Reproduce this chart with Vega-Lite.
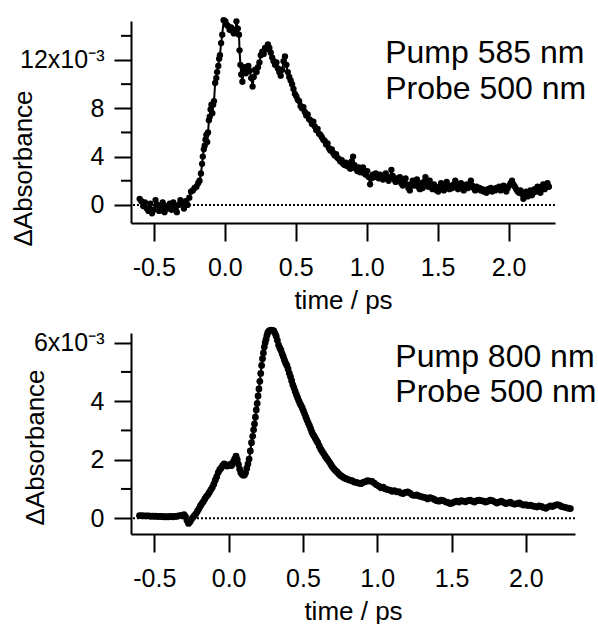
{
"$schema": "https://vega.github.io/schema/vega-lite/v6.json",
"padding": {"left": 9, "top": 16, "right": 0, "bottom": 0},
"spacing": 13,
"config": {
  "view": {"stroke": null},
  "font": "Liberation Sans",
  "axis": {"grid": false, "domainColor": "black", "domainWidth": 2, "tickColor": "black", "tickWidth": 2, "labelColor": "black", "titleColor": "black", "labelFont": "Liberation Sans", "titleFont": "Liberation Sans", "labelFontSize": 25, "titleFontSize": 26, "titleFontWeight": "normal", "labelFlush": false, "labelOverlap": false}
},
"datasets": {
"a": [
{"t":-0.600,"dA":0.0005},{"t":-0.588,"dA":0.0003},{"t":-0.575,"dA":-0.0001},{"t":-0.563,"dA":0.0002},{"t":-0.550,"dA":-0.0003},{"t":-0.538,"dA":-0.0005},{"t":-0.525,"dA":0.0001},{"t":-0.513,"dA":-0.0007},{"t":-0.500,"dA":-0.0004},{"t":-0.488,"dA":0.0004},{"t":-0.475,"dA":0.0000},{"t":-0.463,"dA":-0.0005},{"t":-0.450,"dA":-0.0002},{"t":-0.438,"dA":0.0002},{"t":-0.425,"dA":-0.0006},{"t":-0.413,"dA":-0.0001},{"t":-0.400,"dA":-0.0003},{"t":-0.388,"dA":0.0001},{"t":-0.375,"dA":-0.0004},{"t":-0.363,"dA":0.0002},{"t":-0.350,"dA":-0.0002},{"t":-0.338,"dA":-0.0006},{"t":-0.325,"dA":0.0000},{"t":-0.313,"dA":0.0004},{"t":-0.300,"dA":0.0001},{"t":-0.288,"dA":-0.0003},{"t":-0.275,"dA":0.0003},{"t":-0.263,"dA":0.0000},{"t":-0.250,"dA":0.0006},{"t":-0.238,"dA":0.0011},{"t":-0.225,"dA":0.0012},{"t":-0.213,"dA":0.0014},{"t":-0.200,"dA":0.0015},{"t":-0.188,"dA":0.0018},{"t":-0.178,"dA":0.0020},{"t":-0.168,"dA":0.0026},{"t":-0.160,"dA":0.0034},{"t":-0.155,"dA":0.0040},{"t":-0.148,"dA":0.0046},{"t":-0.142,"dA":0.0049},{"t":-0.136,"dA":0.0054},{"t":-0.130,"dA":0.0058},{"t":-0.124,"dA":0.0052},{"t":-0.118,"dA":0.0060},{"t":-0.112,"dA":0.0070},{"t":-0.106,"dA":0.0073},{"t":-0.100,"dA":0.0079},{"t":-0.094,"dA":0.0083},{"t":-0.088,"dA":0.0076},{"t":-0.082,"dA":0.0083},{"t":-0.076,"dA":0.0086},{"t":-0.068,"dA":0.0101},{"t":-0.060,"dA":0.0105},{"t":-0.054,"dA":0.0110},{"t":-0.046,"dA":0.0115},{"t":-0.040,"dA":0.0121},{"t":-0.034,"dA":0.0124},{"t":-0.026,"dA":0.0134},{"t":-0.018,"dA":0.0141},{"t":-0.008,"dA":0.0153},{"t":0.004,"dA":0.0152},{"t":0.014,"dA":0.0149},{"t":0.024,"dA":0.0148},{"t":0.034,"dA":0.0145},{"t":0.044,"dA":0.0147},{"t":0.054,"dA":0.0144},{"t":0.064,"dA":0.0142},{"t":0.074,"dA":0.0145},{"t":0.082,"dA":0.0152},{"t":0.092,"dA":0.0146},{"t":0.100,"dA":0.0141},{"t":0.104,"dA":0.0128},{"t":0.110,"dA":0.0116},{"t":0.116,"dA":0.0108},{"t":0.124,"dA":0.0102},{"t":0.132,"dA":0.0111},{"t":0.140,"dA":0.0114},{"t":0.148,"dA":0.0109},{"t":0.156,"dA":0.0113},{"t":0.166,"dA":0.0115},{"t":0.176,"dA":0.0111},{"t":0.186,"dA":0.0105},{"t":0.196,"dA":0.0098},{"t":0.204,"dA":0.0106},{"t":0.214,"dA":0.0112},{"t":0.224,"dA":0.0110},{"t":0.234,"dA":0.0114},{"t":0.244,"dA":0.0118},{"t":0.254,"dA":0.0124},{"t":0.264,"dA":0.0127},{"t":0.274,"dA":0.0125},{"t":0.284,"dA":0.0130},{"t":0.294,"dA":0.0129},{"t":0.304,"dA":0.0133},{"t":0.314,"dA":0.0130},{"t":0.324,"dA":0.0126},{"t":0.334,"dA":0.0122},{"t":0.344,"dA":0.0119},{"t":0.354,"dA":0.0116},{"t":0.364,"dA":0.0118},{"t":0.374,"dA":0.0113},{"t":0.384,"dA":0.0110},{"t":0.394,"dA":0.0107},{"t":0.404,"dA":0.0112},{"t":0.414,"dA":0.0119},{"t":0.424,"dA":0.0123},{"t":0.434,"dA":0.0116},{"t":0.444,"dA":0.0110},{"t":0.454,"dA":0.0106},{"t":0.464,"dA":0.0103},{"t":0.474,"dA":0.0100},{"t":0.484,"dA":0.0096},{"t":0.494,"dA":0.0092},{"t":0.504,"dA":0.0090},{"t":0.514,"dA":0.0087},{"t":0.524,"dA":0.0086},{"t":0.534,"dA":0.0082},{"t":0.544,"dA":0.0080},{"t":0.554,"dA":0.0081},{"t":0.564,"dA":0.0077},{"t":0.574,"dA":0.0074},{"t":0.584,"dA":0.0075},{"t":0.594,"dA":0.0071},{"t":0.604,"dA":0.0070},{"t":0.614,"dA":0.0067},{"t":0.624,"dA":0.0069},{"t":0.634,"dA":0.0065},{"t":0.644,"dA":0.0062},{"t":0.654,"dA":0.0063},{"t":0.664,"dA":0.0059},{"t":0.674,"dA":0.0058},{"t":0.684,"dA":0.0056},{"t":0.694,"dA":0.0054},{"t":0.704,"dA":0.0053},{"t":0.714,"dA":0.0050},{"t":0.724,"dA":0.0051},{"t":0.734,"dA":0.0047},{"t":0.744,"dA":0.0045},{"t":0.754,"dA":0.0046},{"t":0.764,"dA":0.0043},{"t":0.774,"dA":0.0041},{"t":0.784,"dA":0.0042},{"t":0.794,"dA":0.0039},{"t":0.804,"dA":0.0038},{"t":0.814,"dA":0.0036},{"t":0.824,"dA":0.0037},{"t":0.834,"dA":0.0034},{"t":0.844,"dA":0.0033},{"t":0.854,"dA":0.0035},{"t":0.864,"dA":0.0032},{"t":0.874,"dA":0.0033},{"t":0.884,"dA":0.0030},{"t":0.894,"dA":0.0036},{"t":0.904,"dA":0.0040},{"t":0.914,"dA":0.0033},{"t":0.924,"dA":0.0030},{"t":0.934,"dA":0.0028},{"t":0.944,"dA":0.0031},{"t":0.954,"dA":0.0027},{"t":0.964,"dA":0.0029},{"t":0.974,"dA":0.0031},{"t":0.984,"dA":0.0026},{"t":0.994,"dA":0.0025},{"t":1.004,"dA":0.0028},{"t":1.014,"dA":0.0023},{"t":1.024,"dA":0.0017},{"t":1.034,"dA":0.0022},{"t":1.044,"dA":0.0025},{"t":1.054,"dA":0.0023},{"t":1.064,"dA":0.0026},{"t":1.074,"dA":0.0024},{"t":1.084,"dA":0.0022},{"t":1.094,"dA":0.0025},{"t":1.104,"dA":0.0023},{"t":1.114,"dA":0.0021},{"t":1.124,"dA":0.0024},{"t":1.134,"dA":0.0026},{"t":1.144,"dA":0.0022},{"t":1.154,"dA":0.0020},{"t":1.164,"dA":0.0023},{"t":1.174,"dA":0.0029},{"t":1.184,"dA":0.0024},{"t":1.194,"dA":0.0021},{"t":1.204,"dA":0.0019},{"t":1.214,"dA":0.0022},{"t":1.224,"dA":0.0020},{"t":1.234,"dA":0.0023},{"t":1.244,"dA":0.0018},{"t":1.254,"dA":0.0016},{"t":1.264,"dA":0.0020},{"t":1.274,"dA":0.0022},{"t":1.284,"dA":0.0017},{"t":1.294,"dA":0.0014},{"t":1.304,"dA":0.0012},{"t":1.314,"dA":0.0017},{"t":1.324,"dA":0.0020},{"t":1.334,"dA":0.0016},{"t":1.344,"dA":0.0019},{"t":1.354,"dA":0.0021},{"t":1.364,"dA":0.0015},{"t":1.374,"dA":0.0013},{"t":1.384,"dA":0.0018},{"t":1.394,"dA":0.0014},{"t":1.404,"dA":0.0019},{"t":1.414,"dA":0.0023},{"t":1.424,"dA":0.0018},{"t":1.434,"dA":0.0015},{"t":1.444,"dA":0.0020},{"t":1.454,"dA":0.0016},{"t":1.464,"dA":0.0013},{"t":1.474,"dA":0.0017},{"t":1.484,"dA":0.0014},{"t":1.494,"dA":0.0012},{"t":1.504,"dA":0.0011},{"t":1.514,"dA":0.0015},{"t":1.524,"dA":0.0018},{"t":1.534,"dA":0.0014},{"t":1.544,"dA":0.0012},{"t":1.554,"dA":0.0016},{"t":1.564,"dA":0.0019},{"t":1.574,"dA":0.0015},{"t":1.584,"dA":0.0013},{"t":1.594,"dA":0.0016},{"t":1.604,"dA":0.0014},{"t":1.614,"dA":0.0017},{"t":1.624,"dA":0.0020},{"t":1.634,"dA":0.0016},{"t":1.644,"dA":0.0013},{"t":1.654,"dA":0.0015},{"t":1.664,"dA":0.0018},{"t":1.674,"dA":0.0014},{"t":1.684,"dA":0.0012},{"t":1.694,"dA":0.0015},{"t":1.704,"dA":0.0017},{"t":1.714,"dA":0.0014},{"t":1.724,"dA":0.0016},{"t":1.734,"dA":0.0020},{"t":1.744,"dA":0.0016},{"t":1.754,"dA":0.0014},{"t":1.764,"dA":0.0012},{"t":1.774,"dA":0.0015},{"t":1.784,"dA":0.0013},{"t":1.794,"dA":0.0014},{"t":1.804,"dA":0.0012},{"t":1.814,"dA":0.0013},{"t":1.824,"dA":0.0011},{"t":1.834,"dA":0.0012},{"t":1.844,"dA":0.0010},{"t":1.854,"dA":0.0013},{"t":1.864,"dA":0.0012},{"t":1.874,"dA":0.0014},{"t":1.884,"dA":0.0011},{"t":1.894,"dA":0.0013},{"t":1.904,"dA":0.0012},{"t":1.914,"dA":0.0014},{"t":1.924,"dA":0.0013},{"t":1.934,"dA":0.0015},{"t":1.944,"dA":0.0012},{"t":1.954,"dA":0.0014},{"t":1.964,"dA":0.0016},{"t":1.974,"dA":0.0013},{"t":1.984,"dA":0.0011},{"t":1.994,"dA":0.0014},{"t":2.004,"dA":0.0016},{"t":2.014,"dA":0.0018},{"t":2.024,"dA":0.0020},{"t":2.034,"dA":0.0017},{"t":2.044,"dA":0.0015},{"t":2.054,"dA":0.0013},{"t":2.064,"dA":0.0011},{"t":2.074,"dA":0.0010},{"t":2.084,"dA":0.0012},{"t":2.094,"dA":0.0009},{"t":2.104,"dA":0.0005},{"t":2.114,"dA":0.0008},{"t":2.124,"dA":0.0011},{"t":2.134,"dA":0.0007},{"t":2.144,"dA":0.0009},{"t":2.154,"dA":0.0012},{"t":2.164,"dA":0.0008},{"t":2.174,"dA":0.0010},{"t":2.184,"dA":0.0013},{"t":2.194,"dA":0.0011},{"t":2.204,"dA":0.0015},{"t":2.214,"dA":0.0012},{"t":2.224,"dA":0.0010},{"t":2.234,"dA":0.0014},{"t":2.244,"dA":0.0017},{"t":2.254,"dA":0.0013},{"t":2.264,"dA":0.0016},{"t":2.274,"dA":0.0018},{"t":2.284,"dA":0.0015}
],
"b": [
{"t":-0.600,"dA":0.00009},{"t":-0.585,"dA":0.00009},{"t":-0.570,"dA":0.00008},{"t":-0.555,"dA":0.00008},{"t":-0.540,"dA":0.00008},{"t":-0.525,"dA":0.00007},{"t":-0.510,"dA":0.00007},{"t":-0.495,"dA":0.00007},{"t":-0.480,"dA":0.00006},{"t":-0.465,"dA":0.00006},{"t":-0.450,"dA":0.00006},{"t":-0.435,"dA":0.00005},{"t":-0.420,"dA":0.00005},{"t":-0.405,"dA":0.00005},{"t":-0.390,"dA":0.00006},{"t":-0.375,"dA":0.00005},{"t":-0.360,"dA":0.00006},{"t":-0.345,"dA":0.00007},{"t":-0.330,"dA":0.00009},{"t":-0.315,"dA":0.00010},{"t":-0.300,"dA":0.00012},{"t":-0.290,"dA":0.00005},{"t":-0.280,"dA":-0.00008},{"t":-0.270,"dA":-0.00018},{"t":-0.260,"dA":-0.00012},{"t":-0.250,"dA":-0.00004},{"t":-0.240,"dA":0.00003},{"t":-0.230,"dA":0.00009},{"t":-0.220,"dA":0.00015},{"t":-0.210,"dA":0.00024},{"t":-0.200,"dA":0.00032},{"t":-0.190,"dA":0.00042},{"t":-0.180,"dA":0.00050},{"t":-0.170,"dA":0.00057},{"t":-0.160,"dA":0.00066},{"t":-0.150,"dA":0.00074},{"t":-0.140,"dA":0.00080},{"t":-0.130,"dA":0.00088},{"t":-0.120,"dA":0.00097},{"t":-0.110,"dA":0.00105},{"t":-0.100,"dA":0.00116},{"t":-0.090,"dA":0.00130},{"t":-0.080,"dA":0.00142},{"t":-0.070,"dA":0.00156},{"t":-0.060,"dA":0.00166},{"t":-0.050,"dA":0.00172},{"t":-0.040,"dA":0.00180},{"t":-0.030,"dA":0.00186},{"t":-0.020,"dA":0.00182},{"t":-0.010,"dA":0.00178},{"t":0.000,"dA":0.00180},{"t":0.010,"dA":0.00184},{"t":0.020,"dA":0.00180},{"t":0.030,"dA":0.00192},{"t":0.040,"dA":0.00202},{"t":0.050,"dA":0.00212},{"t":0.058,"dA":0.00200},{"t":0.066,"dA":0.00184},{"t":0.074,"dA":0.00168},{"t":0.082,"dA":0.00156},{"t":0.090,"dA":0.00150},{"t":0.098,"dA":0.00147},{"t":0.106,"dA":0.00148},{"t":0.114,"dA":0.00155},{"t":0.122,"dA":0.00170},{"t":0.130,"dA":0.00185},{"t":0.138,"dA":0.00202},{"t":0.146,"dA":0.00230},{"t":0.154,"dA":0.00258},{"t":0.162,"dA":0.00280},{"t":0.168,"dA":0.00302},{"t":0.174,"dA":0.00322},{"t":0.180,"dA":0.00345},{"t":0.186,"dA":0.00370},{"t":0.192,"dA":0.00392},{"t":0.198,"dA":0.00418},{"t":0.204,"dA":0.00442},{"t":0.210,"dA":0.00468},{"t":0.216,"dA":0.00495},{"t":0.222,"dA":0.00522},{"t":0.228,"dA":0.00545},{"t":0.234,"dA":0.00565},{"t":0.240,"dA":0.00585},{"t":0.246,"dA":0.00600},{"t":0.252,"dA":0.00612},{"t":0.258,"dA":0.00625},{"t":0.264,"dA":0.00635},{"t":0.272,"dA":0.00640},{"t":0.280,"dA":0.00642},{"t":0.288,"dA":0.00643},{"t":0.296,"dA":0.00642},{"t":0.304,"dA":0.00640},{"t":0.312,"dA":0.00632},{"t":0.320,"dA":0.00622},{"t":0.328,"dA":0.00608},{"t":0.336,"dA":0.00592},{"t":0.344,"dA":0.00582},{"t":0.352,"dA":0.00574},{"t":0.360,"dA":0.00562},{"t":0.368,"dA":0.00552},{"t":0.376,"dA":0.00540},{"t":0.384,"dA":0.00530},{"t":0.392,"dA":0.00522},{"t":0.400,"dA":0.00510},{"t":0.408,"dA":0.00496},{"t":0.416,"dA":0.00484},{"t":0.424,"dA":0.00470},{"t":0.432,"dA":0.00456},{"t":0.440,"dA":0.00445},{"t":0.448,"dA":0.00433},{"t":0.456,"dA":0.00422},{"t":0.464,"dA":0.00412},{"t":0.472,"dA":0.00402},{"t":0.480,"dA":0.00392},{"t":0.488,"dA":0.00385},{"t":0.496,"dA":0.00376},{"t":0.504,"dA":0.00366},{"t":0.512,"dA":0.00356},{"t":0.520,"dA":0.00345},{"t":0.528,"dA":0.00335},{"t":0.536,"dA":0.00325},{"t":0.544,"dA":0.00316},{"t":0.552,"dA":0.00306},{"t":0.560,"dA":0.00295},{"t":0.568,"dA":0.00286},{"t":0.576,"dA":0.00280},{"t":0.584,"dA":0.00272},{"t":0.592,"dA":0.00265},{"t":0.600,"dA":0.00258},{"t":0.610,"dA":0.00247},{"t":0.620,"dA":0.00236},{"t":0.630,"dA":0.00228},{"t":0.640,"dA":0.00220},{"t":0.650,"dA":0.00212},{"t":0.660,"dA":0.00204},{"t":0.670,"dA":0.00198},{"t":0.680,"dA":0.00190},{"t":0.690,"dA":0.00182},{"t":0.700,"dA":0.00174},{"t":0.710,"dA":0.00168},{"t":0.720,"dA":0.00162},{"t":0.730,"dA":0.00158},{"t":0.740,"dA":0.00152},{"t":0.750,"dA":0.00147},{"t":0.760,"dA":0.00144},{"t":0.770,"dA":0.00140},{"t":0.780,"dA":0.00137},{"t":0.790,"dA":0.00135},{"t":0.800,"dA":0.00133},{"t":0.815,"dA":0.00130},{"t":0.830,"dA":0.00128},{"t":0.845,"dA":0.00124},{"t":0.860,"dA":0.00122},{"t":0.875,"dA":0.00120},{"t":0.890,"dA":0.00118},{"t":0.905,"dA":0.00122},{"t":0.920,"dA":0.00125},{"t":0.935,"dA":0.00128},{"t":0.950,"dA":0.00127},{"t":0.965,"dA":0.00126},{"t":0.980,"dA":0.00120},{"t":0.995,"dA":0.00114},{"t":1.010,"dA":0.00110},{"t":1.025,"dA":0.00104},{"t":1.040,"dA":0.00106},{"t":1.055,"dA":0.00100},{"t":1.070,"dA":0.00098},{"t":1.085,"dA":0.00096},{"t":1.100,"dA":0.00092},{"t":1.115,"dA":0.00094},{"t":1.130,"dA":0.00090},{"t":1.145,"dA":0.00091},{"t":1.160,"dA":0.00086},{"t":1.175,"dA":0.00084},{"t":1.190,"dA":0.00088},{"t":1.205,"dA":0.00090},{"t":1.220,"dA":0.00086},{"t":1.235,"dA":0.00080},{"t":1.250,"dA":0.00078},{"t":1.265,"dA":0.00080},{"t":1.280,"dA":0.00076},{"t":1.295,"dA":0.00074},{"t":1.310,"dA":0.00072},{"t":1.325,"dA":0.00070},{"t":1.340,"dA":0.00066},{"t":1.355,"dA":0.00070},{"t":1.370,"dA":0.00068},{"t":1.385,"dA":0.00064},{"t":1.400,"dA":0.00060},{"t":1.415,"dA":0.00058},{"t":1.430,"dA":0.00062},{"t":1.445,"dA":0.00060},{"t":1.460,"dA":0.00056},{"t":1.475,"dA":0.00054},{"t":1.490,"dA":0.00050},{"t":1.505,"dA":0.00052},{"t":1.520,"dA":0.00056},{"t":1.535,"dA":0.00058},{"t":1.550,"dA":0.00055},{"t":1.565,"dA":0.00060},{"t":1.580,"dA":0.00058},{"t":1.595,"dA":0.00056},{"t":1.610,"dA":0.00060},{"t":1.625,"dA":0.00062},{"t":1.640,"dA":0.00058},{"t":1.655,"dA":0.00055},{"t":1.670,"dA":0.00060},{"t":1.685,"dA":0.00062},{"t":1.700,"dA":0.00060},{"t":1.715,"dA":0.00058},{"t":1.730,"dA":0.00055},{"t":1.745,"dA":0.00058},{"t":1.760,"dA":0.00062},{"t":1.775,"dA":0.00060},{"t":1.790,"dA":0.00056},{"t":1.805,"dA":0.00052},{"t":1.820,"dA":0.00055},{"t":1.835,"dA":0.00058},{"t":1.850,"dA":0.00054},{"t":1.865,"dA":0.00050},{"t":1.880,"dA":0.00052},{"t":1.895,"dA":0.00055},{"t":1.910,"dA":0.00050},{"t":1.925,"dA":0.00048},{"t":1.940,"dA":0.00050},{"t":1.955,"dA":0.00052},{"t":1.970,"dA":0.00048},{"t":1.985,"dA":0.00045},{"t":2.000,"dA":0.00046},{"t":2.015,"dA":0.00043},{"t":2.030,"dA":0.00045},{"t":2.045,"dA":0.00042},{"t":2.060,"dA":0.00040},{"t":2.075,"dA":0.00038},{"t":2.090,"dA":0.00042},{"t":2.105,"dA":0.00040},{"t":2.120,"dA":0.00036},{"t":2.135,"dA":0.00034},{"t":2.150,"dA":0.00038},{"t":2.165,"dA":0.00042},{"t":2.180,"dA":0.00040},{"t":2.195,"dA":0.00044},{"t":2.210,"dA":0.00046},{"t":2.225,"dA":0.00045},{"t":2.240,"dA":0.00040},{"t":2.255,"dA":0.00038},{"t":2.270,"dA":0.00036},{"t":2.285,"dA":0.00034},{"t":2.300,"dA":0.00033}
],
"minorA": [{"v": 0.002}, {"v": 0.006}, {"v": 0.010}, {"v": 0.014}],
"minorB": [{"v": 0.001}, {"v": 0.003}, {"v": 0.005}]
},
"vconcat": [
{
  "width": 424, "height": 202,
  "layer": [
    {"data": {"name": "a"}, "mark": {"type": "line", "color": "black", "strokeWidth": 2},
     "encoding": {
       "x": {"field": "t", "type": "quantitative", "scale": {"domain": [-0.661, 2.327], "nice": false, "zero": false},
             "axis": {"values": [-0.5, 0, 0.5, 1, 1.5, 2], "labelExpr": "(datum.value < 0 ? '-' : '') + format(abs(datum.value), '.1f')", "tickSize": 18, "labelPadding": 14, "title": "time / ps", "titleBaseline": "alphabetic", "titleY": 85}},
       "y": {"field": "dA", "type": "quantitative", "scale": {"domain": [-0.0015, 0.01523], "nice": false, "zero": false},
             "axis": {"values": [0, 0.004, 0.008, 0.012],
                      "labelExpr": "round(datum.value*1000) == 12 ? '12x10⁻³' : '' + round(datum.value*1000)",
                      "tickSize": 17, "labelPadding": 10, "title": "ΔAbsorbance", "titleBaseline": "alphabetic", "titleX": -100, "titleY": 147}}
     }},
    {"data": {"values": [{}]}, "mark": {"type": "rule", "strokeDash": [2, 2], "strokeWidth": 2, "color": "black"},
     "encoding": {"y": {"datum": 0, "type": "quantitative"}}},
    {"data": {"name": "minorA"}, "mark": {"type": "tick", "orient": "horizontal", "size": 10, "thickness": 2, "color": "black", "opacity": 1, "xOffset": -5},
     "encoding": {"x": {"datum": -0.661, "type": "quantitative"}, "y": {"field": "v", "type": "quantitative"}}},
    {"data": {"name": "a"}, "mark": {"type": "circle", "color": "black", "size": 40, "opacity": 1},
     "encoding": {
       "x": {"field": "t", "type": "quantitative"},
       "y": {"field": "dA", "type": "quantitative"}
     }},
    {"data": {"values": [{}]}, "mark": {"type": "text", "align": "left", "baseline": "alphabetic", "fontSize": 32, "lineHeight": 36.6, "font": "Liberation Sans", "color": "black"},
     "encoding": {
       "x": {"datum": 1.13, "type": "quantitative"},
       "y": {"datum": 0.01178, "type": "quantitative"},
       "text": {"value": ["Pump 585 nm", "Probe 500 nm"]}
     }}
  ]
},
{
  "width": 444, "height": 201,
  "layer": [
    {"data": {"name": "b"}, "mark": {"type": "line", "color": "black", "strokeWidth": 2},
     "encoding": {
       "x": {"field": "t", "type": "quantitative", "scale": {"domain": [-0.657, 2.331], "nice": false, "zero": false},
             "axis": {"values": [-0.5, 0, 0.5, 1, 1.5, 2], "labelExpr": "(datum.value < 0 ? '-' : '') + format(abs(datum.value), '.1f')", "tickSize": 18, "labelPadding": 14, "title": "time / ps", "titleBaseline": "alphabetic", "titleY": 85}},
       "y": {"field": "dA", "type": "quantitative", "scale": {"domain": [-0.00054, 0.00633], "nice": false, "zero": false},
             "axis": {"values": [0, 0.002, 0.004, 0.006],
                      "labelExpr": "round(datum.value*1000) == 6 ? '6x10⁻³' : '' + round(datum.value*1000)",
                      "tickSize": 17, "labelPadding": 10, "title": "ΔAbsorbance", "titleBaseline": "alphabetic", "titleX": -88, "titleY": 114}}
     }},
    {"data": {"values": [{}]}, "mark": {"type": "rule", "strokeDash": [2, 2], "strokeWidth": 2, "color": "black"},
     "encoding": {"y": {"datum": 0, "type": "quantitative"}}},
    {"data": {"name": "minorB"}, "mark": {"type": "tick", "orient": "horizontal", "size": 10, "thickness": 2, "color": "black", "opacity": 1, "xOffset": -5},
     "encoding": {"x": {"datum": -0.657, "type": "quantitative"}, "y": {"field": "v", "type": "quantitative"}}},
    {"data": {"name": "b"}, "mark": {"type": "circle", "color": "black", "size": 46, "opacity": 1},
     "encoding": {
       "x": {"field": "t", "type": "quantitative"},
       "y": {"field": "dA", "type": "quantitative"}
     }},
    {"data": {"values": [{}]}, "mark": {"type": "text", "align": "left", "baseline": "alphabetic", "fontSize": 32, "lineHeight": 35, "font": "Liberation Sans", "color": "black"},
     "encoding": {
       "x": {"datum": 1.122, "type": "quantitative"},
       "y": {"datum": 0.00517, "type": "quantitative"},
       "text": {"value": ["Pump 800 nm", "Probe 500 nm"]}
     }}
  ]
}
]
}
